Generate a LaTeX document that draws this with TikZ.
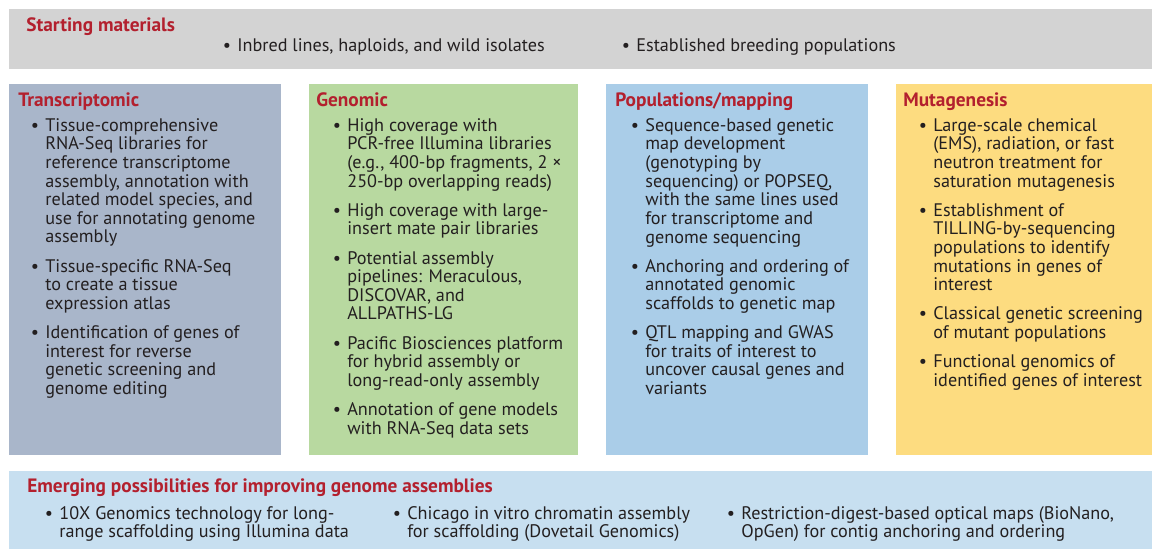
\documentclass[tikz,border=0pt]{standalone}
\usepackage{fontspec}
\setmainfont{PT Sans}
\usetikzlibrary{positioning}
\definecolor{cStart}{HTML}{D3D3D3}
\definecolor{cTrans}{HTML}{A9B6CA}
\definecolor{cGen}{HTML}{B8D9A0}
\definecolor{cPop}{HTML}{AACDE8}
\definecolor{cMut}{HTML}{FDDC80}
\definecolor{cEmerge}{HTML}{C7DFF0}
\definecolor{cHead}{HTML}{B3202E}
\definecolor{cText}{HTML}{231F20}
% bullet hanging left of the item text
\newcommand{\bul}{\makebox[0pt][r]{\textbullet\hspace{3.5pt}}}

\begin{document}
\begin{tikzpicture}[x=0.02cm, y=-0.02cm,
  panel/.style={anchor=north west, inner sep=0pt, outer sep=0pt},
  head/.style={anchor=base west, inner sep=0pt, text=cHead, font=\bfseries\fontsize{11}{12}\selectfont},
  body/.style={anchor=north west, inner sep=0pt, align=left, text=cText, font=\fontsize{10.35}{10.6}\selectfont}
]
\useasboundingbox (0,0) rectangle (1152,549);

% background panels
\node[panel, fill=cStart, minimum width=22.86cm, minimum height=1.2cm] (start) at (9,9) {};
\node[panel, fill=cTrans, minimum width=5.44cm, minimum height=7.42cm] (trans) at (9,84) {};
\node[panel, fill=cGen, minimum width=5.38cm, minimum height=7.42cm, right=0.56cm of trans.north east, anchor=north west] (gen) {};
\node[panel, fill=cPop, minimum width=5.24cm, minimum height=7.42cm, right=0.56cm of gen.north east, anchor=north west] (pop) {};
\node[panel, fill=cMut, minimum width=5.12cm, minimum height=7.42cm, right=0.56cm of pop.north east, anchor=north west] (mut) {};
\node[panel, fill=cEmerge, minimum width=22.86cm, minimum height=1.56cm] (emerge) at (9,471) {};

% starting materials
\node[head] (starthead) at (26,31) {Starting materials};
\node[body, anchor=base west] (start1) at (237,51) {\bul Inbred lines, haploids, and wild isolates};
\node[body, anchor=base west] (start2) at (636,51) {\bul Established breeding populations};

% four columns
\node[head] (transhead) at (18,106) {Transcriptomic};
\node[body] (transtext) at (45,118) {\bul Tissue-comprehensive\\
RNA-Seq libraries for\\
reference transcriptome\\
assembly, annotation with\\
related model species, and\\
use for annotating genome\\
assembly\\[6pt]
\bul Tissue-specific RNA-Seq\\
to create a tissue\\
expression atlas\\[6pt]
\bul Identification of genes of\\
interest for reverse\\
genetic screening and\\
genome editing};

\node[head] (genhead) at (316,106) {Genomic};
\node[body] (gentext) at (347,118) {\bul High coverage with\\
PCR-free Illumina libraries\\
(e.g., 400-bp fragments, 2 ×\\
250-bp overlapping reads)\\[6pt]
\bul High coverage with large-\\
insert mate pair libraries\\[6pt]
\bul Potential assembly\\
pipelines: Meraculous,\\
DISCOVAR, and\\
ALLPATHS-LG\\[6pt]
\bul Pacific Biosciences platform\\
for hybrid assembly or\\
long-read-only assembly\\[6pt]
\bul Annotation of gene models\\
with RNA-Seq data sets};

\node[head] (pophead) at (615,106) {Populations/mapping};
\node[body] (poptext) at (645,118) {\bul Sequence-based genetic\\
map development\\
(genotyping by\\
sequencing) or POPSEQ,\\
with the same lines used\\
for transcriptome and\\
genome sequencing\\[6pt]
\bul Anchoring and ordering of\\
annotated genomic\\
scaffolds to genetic map\\[6pt]
\bul QTL mapping and GWAS\\
for traits of interest to\\
uncover causal genes and\\
variants};

\node[head] (muthead) at (903,106) {Mutagenesis};
\node[body] (muttext) at (933,118) {\bul Large-scale chemical\\
(EMS), radiation, or fast\\
neutron treatment for\\
saturation mutagenesis\\[6pt]
\bul Establishment of\\
TILLING-by-sequencing\\
populations to identify\\
mutations in genes of\\
interest\\[6pt]
\bul Classical genetic screening\\
of mutant populations\\[6pt]
\bul Functional genomics of\\
identified genes of interest};

% emerging possibilities
\node[head] (emergehead) at (27,492) {Emerging possibilities for improving genome assemblies};
\node[body] (emerge1) at (59,506) {\bul 10X Genomics technology for long-\\
range scaffolding using Illumina data};
\node[body] (emerge2) at (407,506) {\bul Chicago in vitro chromatin assembly\\
for scaffolding (Dovetail Genomics)};
\node[body] (emerge3) at (741,506) {\bul Restriction-digest-based optical maps (BioNano,\\
OpGen) for contig anchoring and ordering};
\end{tikzpicture}
\end{document}
